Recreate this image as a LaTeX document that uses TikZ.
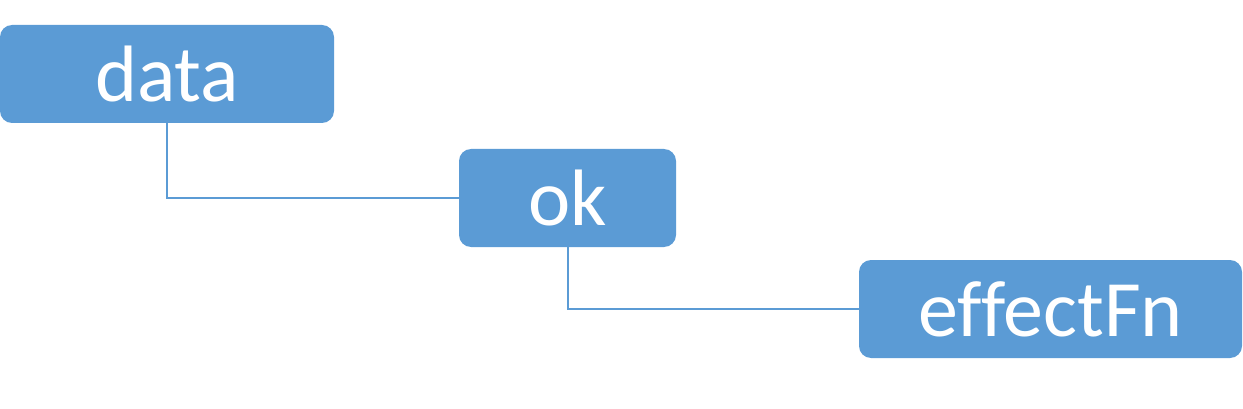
\documentclass[tikz,border=0pt]{standalone}
\usepackage{fontspec}
\setmainfont[Ligatures=NoCommon]{Carlito}
\definecolor{boxblue}{HTML}{5B9BD5}
\begin{document}
\begin{tikzpicture}[x=1pt,y=-1pt,
  box/.style={fill=boxblue, draw=none, rounded corners=12pt, text=white,
    font=\fontsize{80}{96}\selectfont, inner sep=0pt, anchor=center},
  link/.style={draw=boxblue, line width=2pt}]
\useasboundingbox (0,0) rectangle (1243,409);
\node[box, minimum width=334pt, minimum height=98pt] (data) at (167,74) {data};
\node[box, minimum width=217pt, minimum height=98pt] (ok) at (567.5,198) {ok};
\node[box, minimum width=383pt, minimum height=98pt] (eff) at (1050.5,309) {effectFn};
\draw[link] (data.south) |- (ok.west);
\draw[link] (ok.south) |- (eff.west);
\end{tikzpicture}
\end{document}
